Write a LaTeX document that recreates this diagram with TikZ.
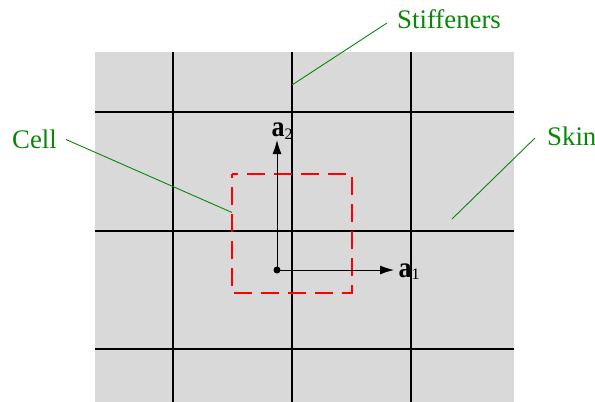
\documentclass[tikz,border=0pt]{standalone}
\usepackage{fontspec}
\setmainfont{Liberation Serif}
\usetikzlibrary{arrows.meta}
\definecolor{skingray}{RGB}{217,217,217}
\definecolor{leadgreen}{RGB}{10,135,10}
\newcommand{\vecsub}[1]{\raisebox{-2.5pt}{\fontsize{16}{16}\mdseries\selectfont #1}}
\begin{document}
\begin{tikzpicture}[x=1pt,y=-1pt,
  stiff/.style={line width=2pt,black},
  lead/.style={leadgreen,line width=0.9pt},
  lbl/.style={leadgreen,font=\fontsize{26.8}{28}\selectfont,inner sep=0pt,anchor=base west},
  cellbox/.style={red,line width=2.2pt,dash pattern=on 18pt off 9pt,dash phase=12pt},
  axis/.style={line width=0.9pt,black,-{Latex[length=14pt,width=9pt]}},
  vec/.style={inner sep=0pt,anchor=base west,font=\fontsize{26}{28}\selectfont\bfseries}]
\useasboundingbox (0,0) rectangle (595,402);
% skin
\fill[skingray] (95,52) rectangle (514,402);
% stiffeners
\foreach \yy in {112,231,349} \draw[stiff] (95,\yy) -- (514,\yy);
\foreach \xx in {173,292,411} \draw[stiff] (\xx,52) -- (\xx,402);
% cell
\draw[cellbox] (232,174) -- (352,174) -- (352,293) -- (232,293) -- cycle;
% base vectors
\coordinate (o) at (277,270);
\coordinate (e1) at (394,270);
\coordinate (e2) at (277,140);
\draw[axis] (o) -- (e1);
\draw[axis] (o) -- (e2);
\fill (o) circle (3.5pt);
\node[vec] (a1) at (398.5,277) {\scalebox{1}[1.12]{a}\vecsub{1}};
\node[vec] (a2) at (271.5,136.5) {\scalebox{1}[1.12]{a}\vecsub{2}};
% labels
\node[lbl] (stf) at (397,28) {Stiffeners};
\node[lbl] (cell) at (12,148) {Cell};
\node[lbl] (skin) at (547,145) {Skin};
\coordinate (stfA) at (387,23);
\coordinate (stfB) at (292,85);
\coordinate (cellA) at (66,139.5);
\coordinate (cellB) at (232,212.5);
\coordinate (skinA) at (535,138);
\coordinate (skinB) at (452,219);
\draw[lead] (stfA) -- (stfB);
\draw[lead] (cellA) -- (cellB);
\draw[lead] (skinA) -- (skinB);
\end{tikzpicture}
\end{document}
